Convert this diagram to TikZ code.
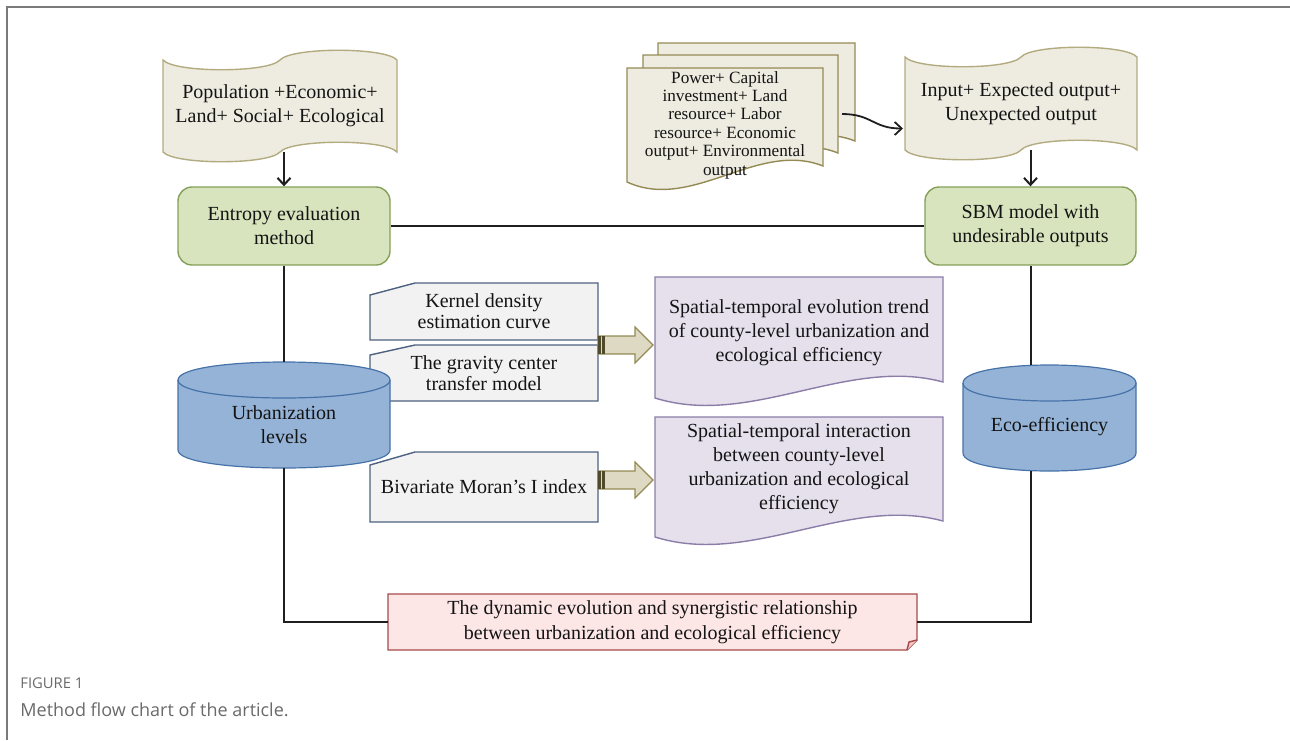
\documentclass[tikz,border=0pt]{standalone}
\usepackage{fontspec}
\setmainfont{Liberation Serif}
\newfontfamily\capfont{Open Sans}
\usetikzlibrary{arrows.meta,calc,backgrounds}
\definecolor{tapefill}{HTML}{EEECE1}
\definecolor{tapedraw}{HTML}{B3AB80}
\definecolor{docdraw}{HTML}{948A54}
\definecolor{greenfill}{HTML}{D7E4BD}
\definecolor{greendraw}{HTML}{86A05A}
\definecolor{cylfill}{HTML}{95B3D7}
\definecolor{cyldraw}{HTML}{4672A8}
\definecolor{kernfill}{HTML}{F2F2F2}
\definecolor{kerndraw}{HTML}{4E6180}
\definecolor{purpfill}{HTML}{E5E0EC}
\definecolor{purpdraw}{HTML}{8B7DA8}
\definecolor{arrfill}{HTML}{DDD9C3}
\definecolor{arrdraw}{HTML}{948A54}
\definecolor{arrstripe}{HTML}{4F4A2A}
\definecolor{pinkfill}{HTML}{FCE6E6}
\definecolor{pinkfold}{HTML}{F2C4C4}
\definecolor{pinkdraw}{HTML}{A84A4A}
\definecolor{txtcol}{HTML}{141414}
\definecolor{capgray}{HTML}{6A6A6A}
\definecolor{framegray}{HTML}{7A7A7A}

\newcommand\drawtape[2]{%
 \draw[#1] (#2.north west)
 .. controls ($(#2.north west)!0.05!(#2.north east)+(0,13)$) and ($(#2.north west)!0.45!(#2.north east)+(0,13)$) .. ($(#2.north west)!0.5!(#2.north east)$)
 .. controls ($(#2.north west)!0.55!(#2.north east)+(0,-13)$) and ($(#2.north west)!0.95!(#2.north east)+(0,-13)$) .. (#2.north east)
 -- (#2.south east)
 .. controls ($(#2.south west)!0.95!(#2.south east)+(0,-13)$) and ($(#2.south west)!0.55!(#2.south east)+(0,-13)$) .. ($(#2.south west)!0.5!(#2.south east)$)
 .. controls ($(#2.south west)!0.45!(#2.south east)+(0,13)$) and ($(#2.south west)!0.05!(#2.south east)+(0,13)$) .. (#2.south west)
 -- cycle;}
\newcommand\drawdoc[2]{%
 \draw[#1] (#2.north west) -- (#2.north east) -- ($(#2.south east)+(0,-16)$)
 .. controls ($(#2.south west)!0.667!(#2.south east)+(0,-42)$) and ($(#2.south west)!0.333!(#2.south east)+(0,30)$) .. (#2.south west) -- cycle;}
\newcommand\drawcyl[2]{%
 \draw[#1] ($(#2.north west)+(0,18)$) -- ($(#2.south west)+(0,-18)$)
 .. controls ($(#2.south west)+(0,6)$) and ($(#2.south east)+(0,6)$) .. ($(#2.south east)+(0,-18)$)
 -- ($(#2.north east)+(0,18)$)
 .. controls ($(#2.north east)+(0,-6)$) and ($(#2.north west)+(0,-6)$) .. ($(#2.north west)+(0,18)$) -- cycle;
 \draw[#1, fill=none] ($(#2.north west)+(0,18)$) .. controls ($(#2.north west)+(0,42)$) and ($(#2.north east)+(0,42)$) .. ($(#2.north east)+(0,18)$);}
\newcommand\drawsnip[3]{%
 \draw[#1] ($(#2.north west)+(0,#3)$) -- ($(#2.north west)+(45,0)$) -- (#2.north east) -- (#2.south east) -- (#2.south west) -- cycle;}

\tikzset{
 txt/.style={align=center, font=\fontsize{10}{12}\selectfont, text=txtcol, inner sep=0pt},
 geo/.style={draw=none, inner sep=0pt, outer sep=0pt},
 link/.style={line width=1pt, draw=black!88},
 tipped/.style={-{Straight Barb[length=3.5pt,width=6.5pt]}},
 tapesty/.style={fill=tapefill, draw=tapedraw, line width=0.7pt},
 docsty/.style={fill=tapefill, draw=docdraw, line width=0.7pt},
 greenbox/.style={draw=greendraw, fill=greenfill, line width=0.7pt, rounded corners=7pt},
 cylsty/.style={fill=cylfill, draw=cyldraw, line width=0.6pt},
 kernsty/.style={fill=kernfill, draw=kerndraw, line width=0.7pt},
 purpsty/.style={fill=purpfill, draw=purpdraw, line width=0.7pt},
 blockarr/.style={fill=arrfill, draw=arrdraw, line width=0.6pt, line join=miter},
 stripe/.style={fill=arrstripe},
 pinksty/.style={fill=pinkfill, draw=pinkdraw, line width=0.7pt},
 framesty/.style={draw=framegray, line width=0.8pt}
}

\begin{document}
\begin{tikzpicture}[x=0.5pt,y=-0.5pt]
\useasboundingbox (0,0) rectangle (1290,740);

% frame
\draw[framesty] (7,740) -- (7,7) -- (1290,7);

% geometry / text nodes
\node[geo, txt, minimum width=117pt, minimum height=46pt] (pop) at (280,106) {Population +Economic+\\Land+ Social+ Ecological};
\node[geo, txt, minimum width=116pt, minimum height=46.5pt] (inp) at (1021,103.5) {Input+ Expected output+\\Unexpected output};
\node[geo, minimum width=98.5pt, minimum height=57pt] (pwb) at (756.5,100) {};
\node[geo, minimum width=97.5pt, minimum height=57pt] (pwm) at (740.5,112) {};
\node[geo, txt, font=\fontsize{8.6}{9.2}\selectfont, minimum width=98pt, minimum height=57pt] (pw) at (725,125) {Power+ Capital\\investment+ Land\\resource+ Labor\\resource+ Economic\\output+ Environmental\\output};
\node[greenbox, txt, minimum width=106pt, minimum height=39pt] (ent) at (284,226) {Entropy evaluation\\method};
\node[greenbox, txt, minimum width=105.5pt, minimum height=39pt] (sbm) at (1030.5,226) {SBM model with\\undesirable outputs};
\node[geo, txt, font=\fontsize{10}{10.5}\selectfont, minimum width=114pt, minimum height=28.5pt] (ker) at (484,311.5) {Kernel density\\estimation curve};
\node[geo, txt, font=\fontsize{10}{10.5}\selectfont, minimum width=114pt, minimum height=28pt] (gra) at (484,373) {The gravity center\\transfer model};
\node[geo, txt, minimum width=114pt, minimum height=35pt] (biv) at (484,487) {Bivariate Moran's I index};
\node[geo, minimum width=144pt, minimum height=60.5pt,
  label={[txt, name=pAt, yshift=2.5pt]center:{Spatial-temporal evolution trend\\of county-level urbanization and\\ecological efficiency}}] (pA) at (799,337.5) {};
\node[geo, minimum width=144pt, minimum height=60pt,
  label={[txt, name=pBt, yshift=4pt]center:{Spatial-temporal interaction\\between county-level\\urbanization and ecological\\efficiency}}] (pB) at (799,477) {};
\node[geo, minimum width=106pt, minimum height=53pt,
  label={[txt, name=urbt, yshift=-5pt]center:{Urbanization\\levels}}] (urb) at (284,415) {};
\node[geo, minimum width=86.5pt, minimum height=53pt,
  label={[txt, name=ecot, yshift=-4.5pt]center:{Eco-efficiency}}] (eco) at (1049.5,418) {};
\node[geo, txt, font=\fontsize{10}{12.5}\selectfont, minimum width=264.5pt, minimum height=28pt] (syn) at (652.5,622) {The dynamic evolution and synergistic relationship\\between urbanization and ecological efficiency};

% shapes behind the text
\begin{scope}[on background layer]
 \drawtape{tapesty}{pop}
 \drawtape{tapesty}{inp}
 \drawdoc{docsty}{pwb}
 \drawdoc{docsty}{pwm}
 \drawdoc{docsty}{pw}
 \drawsnip{kernsty}{ker}{12}
 \drawsnip{kernsty}{gra}{10}
 \drawsnip{kernsty}{biv}{13}
 \drawdoc{purpsty}{pA}
 \drawdoc{purpsty}{pB}
 \drawcyl{cylsty}{urb}
 \drawcyl{cylsty}{eco}
 \draw[pinksty] (syn.north west) -- (syn.north east) -- ($(syn.south east)+(0,-10)$) -- ($(syn.south east)+(-10,0)$) -- (syn.south west) -- cycle;
 \draw[pinksty, fill=pinkfold] ($(syn.south east)+(-10,0)$) -- ($(syn.south east)+(-8,-8)$) -- ($(syn.south east)+(0,-10)$);
\end{scope}

% connectors
\draw[link, tipped] (ent.north |- pop.south) -- (ent.north);
\draw[link, tipped] (sbm.north |- inp.south) -- (sbm.north);
\draw[link] (ent.east) -- (sbm.west);
\draw[link] (ent.south) -- (urb.north);
\draw[link] (urb.south) |- (syn.west);
\draw[link] (sbm.south) -- (sbm.south |- eco.north);
\draw[link] (sbm.south |- eco.south) |- (syn.east);
\draw[link, tipped, line width=0.9pt] ([shift={(4,2)}]pwm.east) .. controls +(30,0) and +(-30,0) .. ([shift={(-2,25)}]inp.west);

% block arrows
\draw[blockarr] (ker.south east) ++(0,-4) -- ++(37,0) -- ++(0,-9) -- ++(18,18) -- ++(-18,18) -- ++(0,-9) -- ++(-37,0) -- cycle;
\fill[stripe] ($(ker.south east)+(0,-4)$) rectangle ++(2.5,18);
\fill[stripe] ($(ker.south east)+(4,-4)$) rectangle ++(2.5,18);
\draw[blockarr] (biv.east) ++(0,-16) -- ++(37,0) -- ++(0,-9) -- ++(18,18) -- ++(-18,18) -- ++(0,-9) -- ++(-37,0) -- cycle;
\fill[stripe] ($(biv.east)+(0,-16)$) rectangle ++(2.5,18);
\fill[stripe] ($(biv.east)+(4,-16)$) rectangle ++(2.5,18);

% caption
\node[anchor=west, inner sep=0pt, font=\capfont\fontsize{7.4}{9}\selectfont, text=capgray] (figlab) at (20,683) {FIGURE 1};
\node[anchor=west, inner sep=0pt, font=\capfont\fontsize{9}{11}\selectfont, text=capgray] (figcap) at (20,710) {Method flow chart of the article.};
\end{tikzpicture}
\end{document}
